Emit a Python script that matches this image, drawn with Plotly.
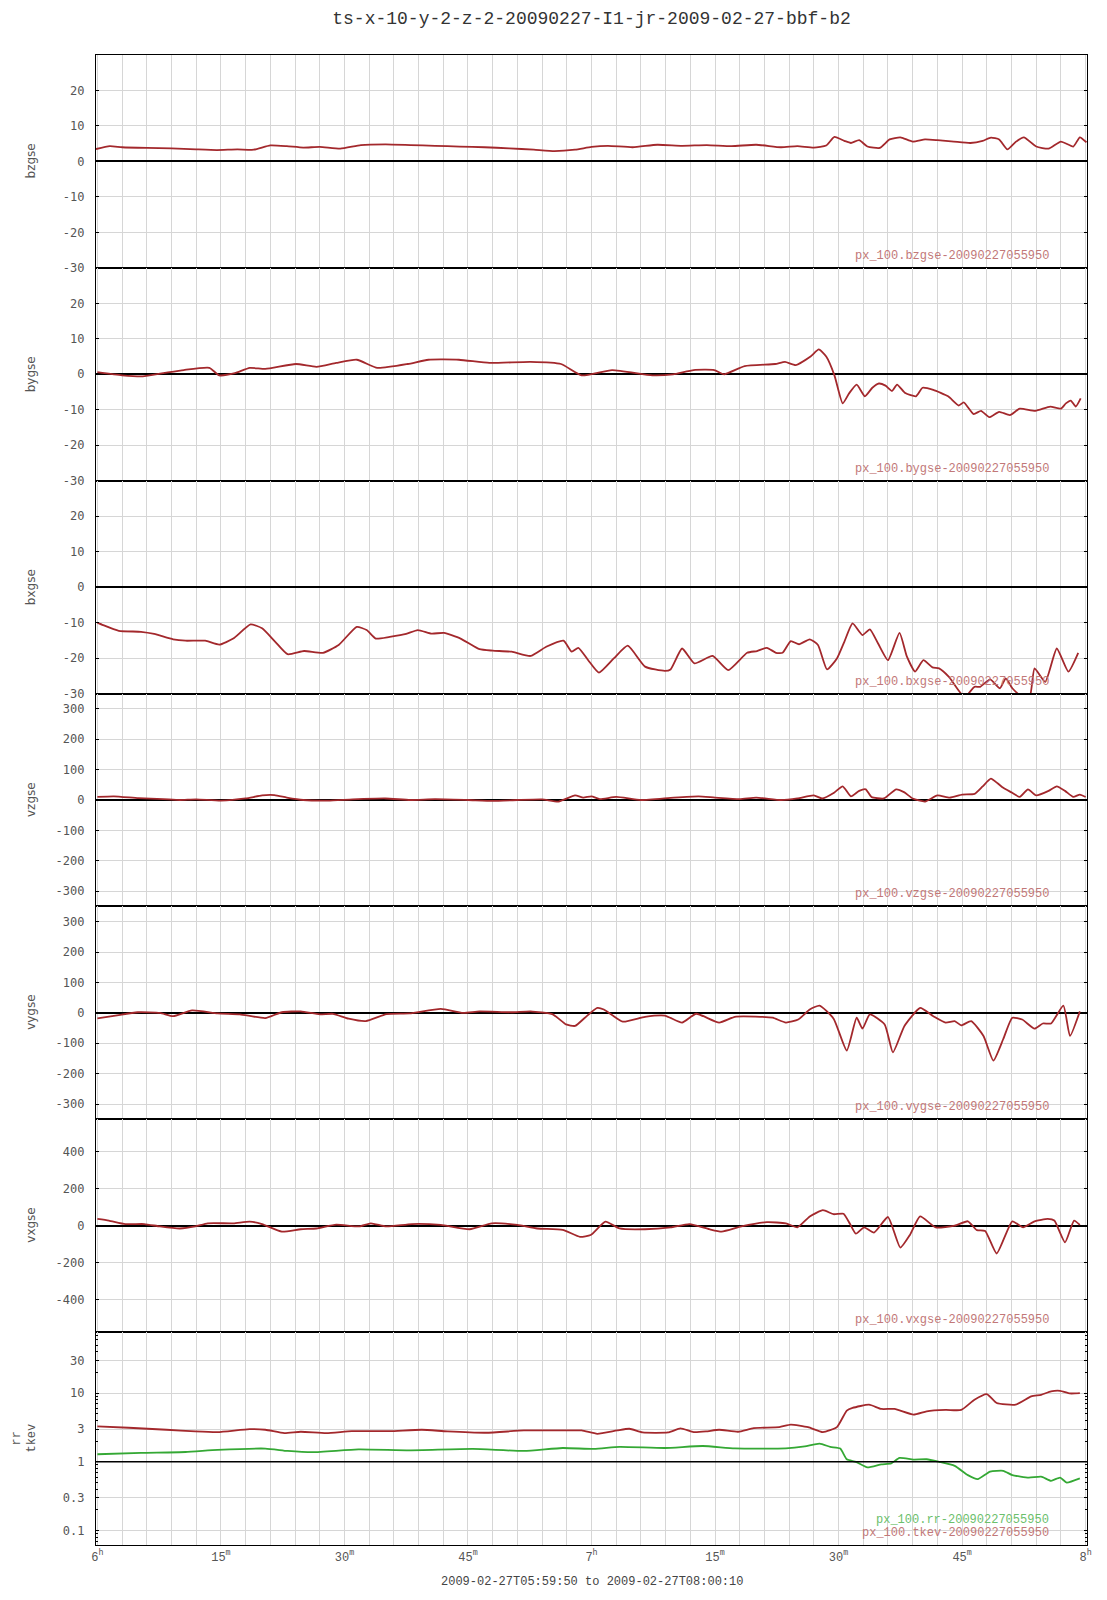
import plotly.graph_objects as go
from plotly.subplots import make_subplots

# ---------------- data (time in minutes after 06:00) ----------------
bzgse = [(-0.17, 3.5), (1.5, 4.3), (3, 4.0), (6, 3.8), (9, 3.7), (12, 3.4), (14.5, 3.2), (17, 3.4),
         (19, 3.3), (21, 4.5), (23, 4.3), (25, 3.9), (27, 4.1), (29.5, 3.6), (32, 4.6), (35, 4.8),
         (38, 4.6), (41, 4.4), (44, 4.2), (47, 4.0), (50, 3.7), (53, 3.3), (55.5, 2.9), (58, 3.3),
         (60, 4.1), (62, 4.4), (65, 4.0), (68, 4.7), (71, 4.4), (74, 4.6), (77, 4.3), (80, 4.7),
         (83, 4.0), (85, 4.3), (87, 3.9), (88.5, 4.5), (89.5, 6.9), (90.7, 5.8), (91.5, 5.2),
         (92.5, 6.0), (93.5, 4.2), (95, 3.8), (96.2, 6.2), (97.5, 6.8), (99, 5.6), (100.5, 6.2),
         (102, 6.0), (104, 5.6), (106, 5.2), (107.5, 5.8), (108.5, 6.7), (109.5, 6.2), (110.5, 3.4),
         (111.5, 5.5), (112.5, 6.8), (114, 4.2), (115.5, 3.6), (117, 5.6), (118.5, 4.2), (119.3, 6.8),
         (120.1, 5.4)]

bygse = [(0, 0.6), (3.0, -0.3), (5.5, -0.6), (8.0, 0.3), (10.5, 1.2), (13.6, 1.8), (14.8, -0.3),
         (16.7, 0.3), (18.5, 1.8), (20.4, 1.5), (24.1, 2.9), (26.6, 2.1), (29.0, 3.2), (31.5, 4.1),
         (34.0, 1.8), (37.7, 2.9), (40.2, 4.1), (43.9, 4.1), (47.6, 3.2), (52.6, 3.5), (56.3, 2.9),
         (58.8, -0.3), (62.5, 1.2), (67.4, -0.3), (69.9, 0.0), (72.4, 1.2), (74.9, 1.2), (76.1, 0.0),
         (78.6, 2.3), (82.3, 2.9), (83.5, 3.5), (84.8, 2.6), (86.6, 5.0), (87.6, 7.0), (88.5, 5.0),
         (89.5, -0.3), (90.5, -8.2), (91.3, -5.3), (92.2, -2.9), (93.2, -6.2), (94.1, -3.8),
         (94.9, -2.6), (95.7, -3.2), (96.5, -4.7), (97.1, -2.9), (98.1, -5.3), (99.4, -6.2),
         (100.2, -3.8), (101.5, -4.4), (103.3, -6.2), (104.6, -8.8), (105.2, -7.9), (106.4, -11.2),
         (107.3, -10.3), (108.3, -12.1), (109.5, -10.6), (110.8, -11.5), (112.0, -9.7),
         (113.9, -10.3), (115.7, -9.1), (117.0, -9.7), (117.6, -8.2), (118.2, -7.4), (118.8, -9.1),
         (119.4, -6.8)]

bxgse = [(0, -10.0), (0.7, -10.7), (2.6, -12.3), (5.3, -12.6), (6.9, -13.2), (9.2, -14.7),
         (10.7, -15.1), (13.1, -15.1), (14.8, -16.2), (16.5, -14.5), (18.6, -10.5), (20.0, -11.6),
         (21.6, -15.4), (23.1, -18.9), (25.1, -18.0), (27.4, -18.5), (29.3, -16.3), (31.5, -11.2),
         (32.7, -12.1), (33.8, -14.5), (35.5, -14.0), (37.5, -13.2), (38.9, -12.1), (40.6, -13.1),
         (42.1, -12.9), (44.1, -14.5), (46.4, -17.5), (48.0, -17.9), (50.3, -18.2), (52.6, -19.4),
         (54.5, -16.8), (56.6, -15.1), (57.6, -18.2), (58.4, -17.1), (59.6, -20.6), (60.9, -24.1),
         (62.7, -20.1), (64.4, -16.5), (66.5, -22.4), (68.9, -23.6), (69.6, -23.2), (71.0, -17.3),
         (72.5, -21.5), (74.7, -19.4), (76.6, -23.4), (78.9, -18.5), (80.1, -18.0), (81.3, -17.1),
         (82.4, -18.5), (83.2, -18.5), (84.2, -15.2), (85.2, -16.1), (86.5, -14.7), (87.5, -16.3),
         (88.6, -23.2), (89.8, -20.1), (90.7, -15.4), (91.7, -10.2), (92.9, -13.5), (93.8, -11.9),
         (94.8, -15.9), (96.0, -20.6), (97.4, -12.9), (98.3, -19.6), (99.3, -23.8), (100.3, -20.6),
         (101.4, -22.6), (102.2, -22.9), (103.4, -25.3), (105.3, -31.0), (106.5, -28.1),
         (107.2, -28.1), (108.4, -26.0), (109.6, -28.5), (110.3, -25.7), (111.1, -28.5),
         (112.3, -31.0), (113.2, -31.0), (113.8, -22.9), (115.1, -26.7), (116.5, -17.3),
         (117.9, -23.8), (119.1, -18.5)]

vzgse = [(0, 10), (2, 12), (5, 6), (8, 3), (10, 0), (12, 2), (15, -2), (18, 5), (20, 15), (21.5, 16),
         (23, 8), (25, 0), (28, -2), (31, 2), (35, 5), (38, 0), (41, 3), (45, 0), (48, -3), (51, 0),
         (54, 2), (56, -5), (58, 15), (59, 8), (60, 12), (61, 3), (63, 10), (66, 0), (70, 8), (73, 12),
         (75, 8), (78, 3), (80, 8), (83, 0), (85, 5), (87, 15), (88, 5), (89.5, 25), (90.5, 45),
         (91.5, 12), (92.5, 30), (93.3, 35), (94, 10), (95.5, 5), (97, 35), (98, 25), (99, 5),
         (100.5, -5), (102, 15), (103.5, 8), (105, 18), (106.5, 20), (107.5, 45), (108.5, 70),
         (109.3, 55), (110, 40), (111, 25), (112, 10), (113, 35), (114, 15), (115.5, 30), (116.5, 45),
         (117.5, 30), (118.5, 10), (119.3, 18), (120, 10)]

vygse = [(0, -18), (2.2, -9), (4.9, 2), (7.6, 0), (9.2, -11), (11.5, 8), (14.6, -2), (17.3, -5),
         (20.4, -17), (22.4, 2), (24.7, 5), (27.0, -5), (28.6, -3), (30.5, -19), (32.6, -27),
         (35.1, -4), (37.9, -2), (41.7, 13), (44.4, 0), (46.4, 5), (50.3, 2), (52.6, 5), (55.3, -5),
         (56.9, -38), (58.0, -43), (59.2, -16), (60.7, 16), (61.5, 11), (63.8, -29), (66.5, -13),
         (68.9, -9), (71.0, -32), (72.7, -3), (75.5, -32), (77.4, -13), (80.5, -13), (82.0, -16),
         (83.6, -32), (85.1, -22), (86.5, 11), (87.7, 24), (89.4, -19), (91.0, -124), (92.2, -16),
         (92.9, -52), (93.8, -5), (95.6, -38), (96.6, -130), (98.0, -43), (99.9, 16), (101.5, -11),
         (103.0, -32), (104.1, -27), (104.9, -41), (106.1, -27), (107.6, -76), (108.8, -157),
         (110.0, -86), (111.1, -16), (112.3, -22), (113.8, -52), (114.8, -35), (115.8, -35),
         (117.3, 24), (118.1, -76), (119.3, 5)]

vxgse = [(0, 37), (1.4, 28), (3.4, 9), (5.7, 9), (7.6, -4), (10.0, -15), (11.9, -4), (13.4, 13),
         (16.5, 13), (18.5, 22), (20.0, 9), (22.4, -32), (24.7, -19), (26.6, -15), (29.0, 6),
         (31.8, -4), (33.2, 13), (35.1, -4), (38.2, 9), (41.7, 4), (45.2, -19), (47.9, 13), (51.0, 4),
         (53.4, -15), (56.5, -22), (58.6, -60), (59.9, -50), (61.7, 22), (63.4, -15), (66.5, -19),
         (69.6, -9), (71.9, 9), (74.3, -19), (75.8, -32), (78.2, -4), (81.3, 19), (83.6, 13),
         (85.0, -9), (86.5, 50), (88.1, 84), (89.4, 62), (90.6, 65), (91.4, 9), (92.1, -43),
         (93.1, -9), (94.3, -37), (96.0, 47), (97.5, -118), (98.7, -47), (99.9, 50), (101.8, -9),
         (104.1, 0), (105.7, 24), (106.8, -24), (107.8, -28), (109.2, -150), (111.1, 24),
         (112.4, -9), (113.8, 24), (115.4, 37), (116.2, 28), (117.5, -90), (118.6, 28), (119.3, 4)]

tkev = [(0, 3.27), (3.8, 3.13), (8.4, 2.93), (11.9, 2.77), (14.6, 2.71), (18.5, 2.99), (20.4, 2.93),
        (22.7, 2.62), (24.7, 2.74), (27.8, 2.62), (30.9, 2.80), (35.5, 2.80), (39.4, 2.93),
        (42.5, 2.77), (47.2, 2.65), (51.8, 2.86), (55.7, 2.86), (58.8, 2.86), (60.7, 2.56),
        (63.1, 2.86), (64.6, 3.03), (66.2, 2.68), (69.3, 2.68), (70.8, 3.06), (72.4, 2.71),
        (73.9, 2.77), (75.5, 2.93), (77.8, 2.74), (79.7, 3.09), (82.8, 3.20), (84.2, 3.49),
        (86.3, 3.20), (88.1, 2.71), (89.8, 3.20), (91.0, 5.56), (91.7, 6.08), (93.7, 6.79),
        (95.2, 5.88), (96.8, 5.88), (99.1, 4.87), (100.7, 5.44), (103.0, 5.69), (104.9, 5.69),
        (106.5, 8.02), (108.0, 9.68), (109.2, 7.17), (111.5, 6.79), (113.4, 8.96), (114.6, 9.46),
        (115.8, 10.6), (116.9, 10.8), (118.1, 9.89), (119.3, 10.0)]

rr = [(0, 1.29), (5.3, 1.35), (10.7, 1.39), (14.6, 1.49), (20.4, 1.56), (23.1, 1.44), (26.2, 1.38),
      (31.7, 1.52), (37.9, 1.47), (45.6, 1.54), (51.8, 1.44), (56.5, 1.59), (60.3, 1.54),
      (63.4, 1.65), (68.9, 1.59), (73.5, 1.70), (77.4, 1.57), (83.6, 1.57), (85.9, 1.68),
      (87.7, 1.84), (89.0, 1.65), (90.2, 1.56), (91.0, 1.09), (92.1, 1.0), (93.5, 0.83),
      (95.2, 0.92), (96.4, 0.95), (97.4, 1.14), (99.1, 1.08), (100.7, 1.09), (102.2, 1.0),
      (104.1, 0.875), (105.7, 0.64), (106.9, 0.56), (108.4, 0.72), (110.0, 0.74), (111.1, 0.64),
      (113.1, 0.59), (114.6, 0.61), (115.8, 0.53), (116.9, 0.59), (117.7, 0.50), (119.3, 0.575)]

panel_names = ["bzgse", "bygse", "bxgse", "vzgse", "vygse", "vxgse"]
legend_labels = ["px_100.bzgse-20090227055950", "px_100.bygse-20090227055950",
                 "px_100.bxgse-20090227055950", "px_100.vzgse-20090227055950",
                 "px_100.vygse-20090227055950", "px_100.vxgse-20090227055950"]
rr_label = "px_100.rr-20090227055950"
tkev_label = "px_100.tkev-20090227055950"

b_ticks = [-30, -20, -10, 0, 10, 20]
v_ticks = [-300, -200, -100, 0, 100, 200, 300]
vx_ticks = [-400, -200, 0, 200, 400]
log_ticks = [0.1, 0.3, 1, 3, 10, 30]
log_tick_text = ["0.1", "0.3", "1", "3", "10", "30"]

x_label_minutes = [0, 15, 30, 45, 60, 75, 90, 105, 120]
x_label_text = ["6<sup>h</sup>", "15<sup>m</sup>", "30<sup>m</sup>", "45<sup>m</sup>", "7<sup>h</sup>",
                "15<sup>m</sup>", "30<sup>m</sup>", "45<sup>m</sup>", "8<sup>h</sup>"]
grid_minutes = list(range(0, 121, 3))

title_text = "ts-x-10-y-2-z-2-20090227-I1-jr-2009-02-27-bbf-b2"
range_text = "2009-02-27T05:59:50 to 2009-02-27T08:00:10"

# ---------------- styling ----------------
RED = "#a3282c"
GREEN = "#34a834"
RED_TXT = "#c27878"
GREEN_TXT = "#6cc06c"
GRID = "#d6d6d6"
MONO = "Liberation Mono"
TICKF = dict(family="DejaVu Sans Mono", size=12, color="#555555")
PAGE_OFF = 8  # page body offset (px) of the rendered html
FIG_W = 1107
FIG_H = 1600


def tick_text(vals):
    return [str(v) for v in vals]


fig = make_subplots(rows=7, cols=1, shared_xaxes=True, vertical_spacing=0)

series = [bzgse, bygse, bxgse, vzgse, vygse, vxgse]
for i, s in enumerate(series):
    fig.add_trace(go.Scatter(x=[p[0] for p in s], y=[p[1] for p in s], mode="lines",
                             line=dict(color=RED, width=1.8, shape="spline", smoothing=0.5),
                             showlegend=False), row=i + 1, col=1)

fig.add_trace(go.Scatter(x=[p[0] for p in tkev], y=[p[1] for p in tkev], mode="lines",
                         line=dict(color=RED, width=1.8, shape="spline", smoothing=0.5),
                         showlegend=False), row=7, col=1)
fig.add_trace(go.Scatter(x=[p[0] for p in rr], y=[p[1] for p in rr], mode="lines",
                         line=dict(color=GREEN, width=1.8, shape="spline", smoothing=0.5),
                         showlegend=False), row=7, col=1)

for r in range(1, 8):
    fig.update_xaxes(range=[-1 / 6, 120 + 1 / 6], tickmode="array", tickvals=x_label_minutes,
                     ticktext=x_label_text, ticks="", showgrid=True, gridcolor=GRID, gridwidth=1,
                     minor=dict(tickmode="array", tickvals=grid_minutes, showgrid=True,
                                gridcolor=GRID, gridwidth=1, ticks=""),
                     showline=True, linecolor="black", linewidth=1.2, mirror=True, zeroline=False,
                     tickfont=dict(family=MONO, size=12, color="#555555"), row=r, col=1)

yopts = dict(showgrid=True, gridcolor=GRID, gridwidth=1, showline=True, linecolor="black",
             linewidth=1.2, mirror="ticks", ticks="inside", ticklen=3, tickcolor="black",
             zeroline=True, zerolinecolor="black", zerolinewidth=1.5, tickfont=TICKF,
             ticklabelstandoff=8)
for r in (1, 2, 3):
    fig.update_yaxes(range=[-30, 30], tickmode="array", tickvals=b_ticks,
                     ticktext=tick_text(b_ticks), row=r, col=1, **yopts)
for r in (4, 5):
    fig.update_yaxes(range=[-350, 350], tickmode="array", tickvals=v_ticks,
                     ticktext=tick_text(v_ticks), row=r, col=1, **yopts)
fig.update_yaxes(range=[-575, 575], tickmode="array", tickvals=vx_ticks,
                 ticktext=tick_text(vx_ticks), row=6, col=1, **yopts)
fig.update_yaxes(type="log", range=[-1.21, 1.887], tickmode="array", tickvals=log_ticks,
                 ticktext=log_tick_text,
                 minor=dict(ticks="inside", ticklen=2, tickcolor="black", dtick="D1", showgrid=False),
                 row=7, col=1, **yopts)
fig.add_shape(type="line", xref="x7 domain", x0=0, x1=1, yref="y7", y0=1, y1=1,
              line=dict(color="black", width=1.5))

# plot area spans page x 96..1087 -> paper width 991 px
PLOT_W = 991.0


def paper_x(page_x):
    return (page_x - 96) / PLOT_W


annotations = []
nrows = 7
for i, name in enumerate(panel_names):
    y0 = 1 - (i + 1) / nrows
    yc = 1 - (i + 0.5) / nrows
    annotations.append(dict(text=name, xref="paper", yref="paper", x=paper_x(31), y=yc,
                            xanchor="center", yanchor="middle", textangle=-90, showarrow=False,
                            font=dict(family="DejaVu Sans", size=12, color="#555555")))
    annotations.append(dict(text=legend_labels[i], xref="paper", yref="paper", x=paper_x(1051),
                            y=y0, xanchor="right", yanchor="middle", yshift=12, showarrow=False,
                            font=dict(family=MONO, size=12, color=RED_TXT)))
yc7 = 0.5 / nrows
annotations.append(dict(text="rr", xref="paper", yref="paper", x=paper_x(17), y=yc7,
                        xanchor="center", yanchor="middle", textangle=-90, showarrow=False,
                        font=dict(family=MONO, size=12, color="#555555")))
annotations.append(dict(text="tkev", xref="paper", yref="paper", x=paper_x(32), y=yc7,
                        xanchor="center", yanchor="middle", textangle=-90, showarrow=False,
                        font=dict(family=MONO, size=12, color="#555555")))
annotations.append(dict(text=rr_label, xref="paper", yref="paper", x=paper_x(1051), y=0,
                        xanchor="right", yanchor="middle", yshift=25, showarrow=False,
                        font=dict(family=MONO, size=12, color=GREEN_TXT)))
annotations.append(dict(text=tkev_label, xref="paper", yref="paper", x=paper_x(1051), y=0,
                        xanchor="right", yanchor="middle", yshift=12, showarrow=False,
                        font=dict(family=MONO, size=12, color=RED_TXT)))
annotations.append(dict(text=range_text, xref="paper", yref="paper", x=0.5, y=-0.0248,
                        xanchor="center", yanchor="middle", showarrow=False,
                        font=dict(family=MONO, size=12, color="#444444")))

fig.update_layout(
    width=FIG_W, height=FIG_H,
    margin=dict(l=96 - PAGE_OFF, r=20 + PAGE_OFF, t=55 - PAGE_OFF, b=55 + PAGE_OFF),
    paper_bgcolor="white", plot_bgcolor="white",
    title=dict(text=title_text, xref="paper", x=0.5, xanchor="center", yref="container",
               y=1 - 3 / FIG_H, yanchor="top", pad=dict(t=0),
               font=dict(family=MONO, size=18, color="#333333")),
    annotations=annotations,
    showlegend=False,
)

fig.write_html("out.html")
